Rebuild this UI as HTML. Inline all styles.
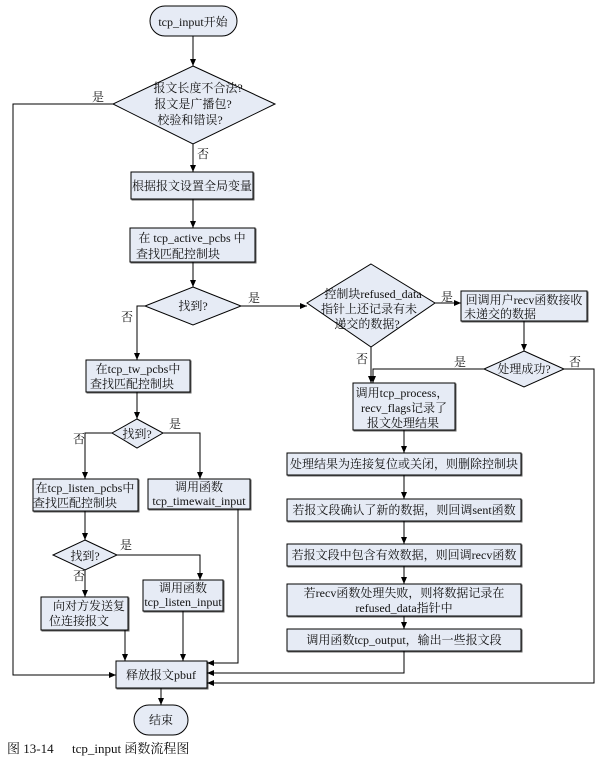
<!DOCTYPE html>
<html><head><meta charset="utf-8"><style>
html,body{margin:0;padding:0;background:#fff;}
svg{display:block;}
text{font-family:"Liberation Serif","Noto Serif CJK SC","Noto Sans CJK SC",serif;font-size:12px;fill:#111;}
</style></head><body>
<svg width="616" height="761" viewBox="0 0 616 761" xmlns="http://www.w3.org/2000/svg">
<defs>
<marker id="a" markerWidth="8" markerHeight="8" refX="7" refY="4" orient="auto" markerUnits="userSpaceOnUse">
<path d="M0,1 L7,4 L0,7 z" fill="#000"/></marker>
</defs>
<g fill="#e6ebf5" stroke="#000" stroke-width="1">
<rect x="150" y="6" width="87" height="30" rx="15"/>
<polygon points="193,66 275,104 193,144 113,104"/>
<rect x="131" y="172" width="122" height="27" style="filter:drop-shadow(1px 1px 0 #666)"/>
<rect x="130" y="228" width="125" height="34" style="filter:drop-shadow(1px 1px 0 #666)"/>
<polygon points="193,287 241,306 193,325 145,306"/>
<rect x="86" y="360" width="104" height="32" style="filter:drop-shadow(1px 1px 0 #666)"/>
<polygon points="137,419 163,433 137,448 112,433"/>
<rect x="33" y="479" width="105" height="32" style="filter:drop-shadow(1px 1px 0 #666)"/>
<rect x="148" y="479" width="102" height="30" style="filter:drop-shadow(1px 1px 0 #666)"/>
<polygon points="85,540 117,555 85,570 53,555"/>
<rect x="143" y="580" width="80" height="31" style="filter:drop-shadow(1px 1px 0 #666)"/>
<rect x="41" y="597" width="87" height="33" style="filter:drop-shadow(1px 1px 0 #666)"/>
<rect x="116" y="661" width="91" height="27" style="filter:drop-shadow(1px 1px 0 #666)"/>
<rect x="134" y="705" width="54" height="30" rx="15"/>
<polygon points="371,264 435,303 371,347 307,303"/>
<rect x="461" y="291" width="126" height="30" style="filter:drop-shadow(1px 1px 0 #666)"/>
<polygon points="524,351 564,369 524,387 484,369"/>
<rect x="353" y="383" width="102" height="47" style="filter:drop-shadow(1px 1px 0 #666)"/>
<rect x="287" y="453" width="234" height="22" style="filter:drop-shadow(1px 1px 0 #666)"/>
<rect x="287" y="499" width="234" height="22" style="filter:drop-shadow(1px 1px 0 #666)"/>
<rect x="287" y="544" width="234" height="22" style="filter:drop-shadow(1px 1px 0 #666)"/>
<rect x="287" y="584" width="234" height="32" style="filter:drop-shadow(1px 1px 0 #666)"/>
<rect x="287" y="629" width="234" height="22" style="filter:drop-shadow(1px 1px 0 #666)"/>
</g>
<g fill="none" stroke="#000" stroke-width="1" marker-end="url(#a)">
<path d="M193,36 V66"/>
<path d="M193,144 V172"/>
<path d="M193,199 V228"/>
<path d="M193,262 V287"/>
<path d="M113,104 H13 V675 H116"/>
<path d="M241,306 H307"/>
<path d="M145,306 H137 V360"/>
<path d="M137,392 V419"/>
<path d="M112,433 H85 V479"/>
<path d="M163,433 H200 V479"/>
<path d="M85,511 V540"/>
<path d="M117,555 H200 V580"/>
<path d="M85,570 V597"/>
<path d="M125,630 V661"/>
<path d="M183,611 V661"/>
<path d="M238,509 V663 H207"/>
<path d="M161,688 V705"/>
<path d="M435,303 H461"/>
<path d="M524,321 V351"/>
<path d="M484,369 H373 V383"/>
<path d="M371,347 V383"/>
<path d="M404,430 V453"/>
<path d="M404,475 V499"/>
<path d="M404,521 V544"/>
<path d="M404,566 V584"/>
<path d="M404,616 V629"/>
<path d="M404,651 V673 H207"/>
<path d="M564,369 H594 V683 H207"/>
</g>
<g text-anchor="middle">
<text x="193" y="26">tcp_input开始</text>
<text x="198" y="92">报文长度不合法?</text>
<text x="193" y="108">报文是广播包?</text>
<text x="190" y="124">校验和错误?</text>
<text x="192" y="190">根据报文设置全局变量</text>
<text x="192" y="242">在 tcp_active_pcbs 中</text>
<text x="178" y="258">查找匹配控制块</text>
<text x="193" y="310">找到?</text>
<text x="138" y="373">在tcp_tw_pcbs中</text>
<text x="132" y="388">查找匹配控制块</text>
<text x="137" y="438">找到?</text>
<text x="85" y="492">在tcp_listen_pcbs中</text>
<text x="75" y="507">查找匹配控制块</text>
<text x="199" y="491">调用函数</text>
<text x="199" y="505">tcp_timewait_input</text>
<text x="85" y="560">找到?</text>
<text x="183" y="592">调用函数</text>
<text x="183" y="606">tcp_listen_input</text>
<text x="89" y="610">向对方发送复</text>
<text x="79" y="625">位连接报文</text>
<text x="161" y="679">释放报文pbuf</text>
<text x="161" y="724">结束</text>
<text x="373" y="298">控制块refused_data</text>
<text x="369" y="313">指针上还记录有未</text>
<text x="367" y="328">递交的数据?</text>
<text x="524" y="304">回调用户recv函数接收</text>
<text x="500" y="318">未递交的数据</text>
<text x="524" y="373">处理成功?</text>
<text x="402" y="397">调用tcp_process，</text>
<text x="404" y="412">recv_flags记录了</text>
<text x="403" y="427">报文处理结果</text>
<text x="404" y="468">处理结果为连接复位或关闭，则删除控制块</text>
<text x="404" y="514">若报文段确认了新的数据，则回调sent函数</text>
<text x="404" y="559">若报文段中包含有效数据，则回调recv函数</text>
<text x="404" y="597">若recv函数处理失败，则将数据记录在</text>
<text x="404" y="612">refused_data指针中</text>
<text x="404" y="644">调用函数tcp_output，输出一些报文段</text>
</g>
<g>
<text x="92" y="101">是</text>
<text x="197" y="158">否</text>
<text x="248" y="302">是</text>
<text x="121" y="321">否</text>
<text x="169" y="428">是</text>
<text x="73" y="443">否</text>
<text x="120" y="549">是</text>
<text x="73" y="580">否</text>
<text x="441" y="301">是</text>
<text x="356" y="363">否</text>
<text x="454" y="366">是</text>
<text x="569" y="366">否</text>
<text x="7" y="753" style="font-size:13px">图 13-14</text>
<text x="72" y="753" style="font-size:13px">tcp_input 函数流程图</text>
</g>
</svg>
</body></html>
